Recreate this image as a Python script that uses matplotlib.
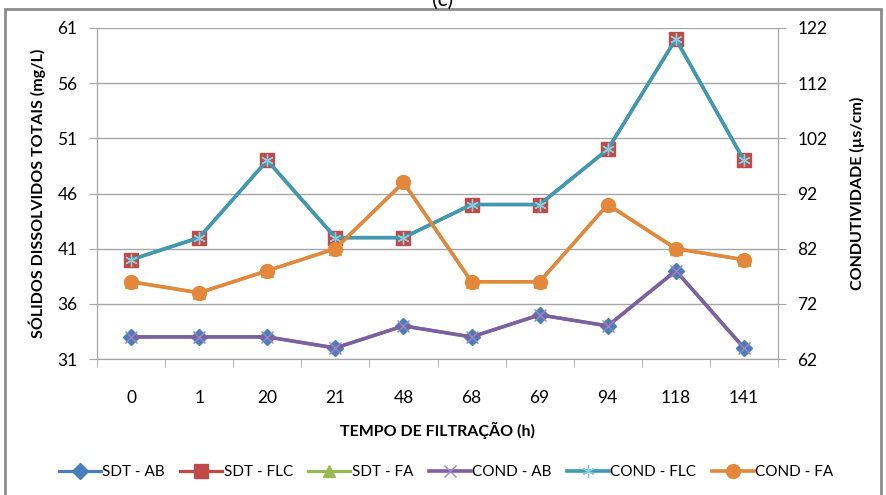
import numpy as np
import matplotlib
matplotlib.use("Agg")
import matplotlib.pyplot as plt
from matplotlib.patches import Rectangle

plt.rcParams['font.family'] = ['Lato', 'DejaVu Sans']

tempo = ['0', '1', '20', '21', '48', '68', '69', '94', '118', '141']

sdt_ab = [33, 33, 33, 32, 34, 33, 35, 34, 39, 32]
sdt_flc = [40, 42, 49, 42, 42, 45, 45, 50, 60, 49]
sdt_fa = [38, 37, 39, 41, 47, 38, 38, 45, 41, 40]

cond_ab = [66, 66, 66, 64, 68, 66, 70, 68, 78, 64]
cond_flc = [80, 84, 98, 84, 84, 90, 90, 100, 120, 98]
cond_fa = [76, 74, 78, 82, 94, 76, 76, 90, 82, 80]

x = np.arange(len(tempo))

fig = plt.figure(figsize=(8.86, 4.95), dpi=100)
ax = fig.add_axes([97/886, 1-359/495, 681/886, 331/495])
ax2 = ax.twinx()

# left axis series (drawn underneath)
ax.plot(x, sdt_ab, color='#4A7EBB', lw=2.3, marker='D', ms=8, label='SDT - AB', zorder=3)
ax.plot(x, sdt_flc, color='#BE4B48', lw=2.3, marker='s', ms=10.5, label='SDT - FLC', zorder=3)
ax.plot(x, sdt_fa, color='#98B954', lw=2.3, marker='^', ms=9, label='SDT - FA', zorder=3)

# right axis series (on top)
ax2.plot(x, cond_ab, color='#7D60A0', lw=2.6, marker='x', ms=9, mew=1,
         mec='#9A87C0', label='COND - AB')
ax2.plot(x, cond_flc, color='#3E9AB2', lw=2.6, marker=(6, 2, 0), ms=9, mew=1,
         mec='#8FCADA', label='COND - FLC')
ax2.plot(x, cond_fa, color='#E2873B', lw=2.6, marker='o', ms=10, label='COND - FA')

grid_c = '#A6A6A6'
ax.set_xlim(-0.5, 9.5)
ax.set_ylim(31, 61)
ax.set_yticks(np.arange(31, 62, 5))
ax2.set_ylim(62, 122)
ax2.set_yticks(np.arange(62, 123, 10))
ax.yaxis.grid(True, color=grid_c, lw=1)
ax.set_axisbelow(True)

ax.set_xticks(x)
ax.set_xticklabels(tempo)
ax.set_xticks(np.arange(-0.5, 10, 1), minor=True)
ax.tick_params(axis='x', which='major', length=0, pad=22, labelsize=12.5)
ax.tick_params(axis='x', which='minor', length=6, color=grid_c, direction='out')
ax.tick_params(axis='y', length=6, color=grid_c, labelsize=12.5, pad=8)
ax2.tick_params(axis='y', length=6, color=grid_c, labelsize=12.5, pad=8)

for a in (ax, ax2):
    a.spines['top'].set_visible(False)
    for s in ('left', 'right', 'bottom'):
        a.spines[s].set_color(grid_c)

ax.set_xlabel('TEMPO DE FILTRAÇÃO (h)', fontsize=11.5, fontweight='bold', labelpad=12)
ax.set_ylabel('SÓLIDOS DISSOLVIDOS TOTAIS (mg/L)', fontsize=11.5, fontweight='bold', labelpad=8)
ax2.set_ylabel('CONDUTIVIDADE (µs/cm)', fontsize=11.5, fontweight='bold', labelpad=16)

h1, l1 = ax.get_legend_handles_labels()
h2, l2 = ax2.get_legend_handles_labels()
fig.legend(h1 + h2, l1 + l2, loc='center', bbox_to_anchor=(446/886, 1-472/495),
           ncol=6, frameon=False, fontsize=11, handlelength=2.75, columnspacing=1.0,
           handletextpad=0.1)

# chart border and clipped title
fig.patches.append(Rectangle((5/886, -0.05), 876/886, 1.05-9/495, transform=fig.transFigure,
                             fill=False, edgecolor='#8C8C8C', lw=2))
fig.text(0.5, 1.0, '(c)', ha='center', va='center', fontsize=15)

fig.savefig('out.png', dpi=100)
